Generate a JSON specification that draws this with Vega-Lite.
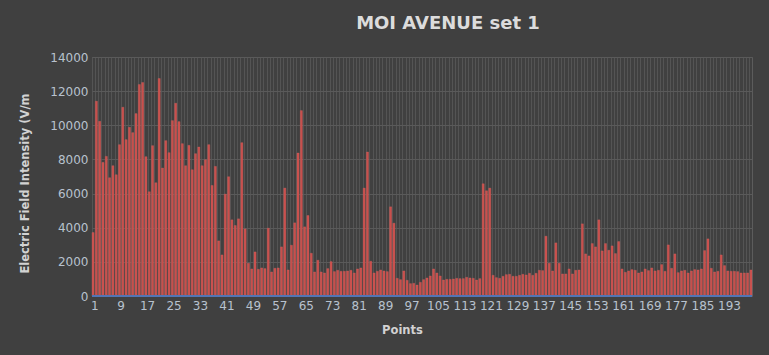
{
  "$schema": "https://vega.github.io/schema/vega-lite/v6.json",
  "autosize": "none",
  "width": 660,
  "height": 239,
  "padding": {"left": 92, "top": 57, "right": 17, "bottom": 59},
  "background": "#404040",
  "config": {
    "view": {"stroke": "#5c5c5c", "strokeWidth": 1},
    "font": "DejaVu Sans"
  },
  "title": {
    "text": "MOI AVENUE set 1",
    "font": "DejaVu Sans",
    "fontSize": 18,
    "fontWeight": "bold",
    "color": "#dcdcdc",
    "anchor": "middle",
    "frame": "group",
    "baseline": "alphabetic",
    "offset": 4,
    "dx": 26
  },
  "data": {
    "values": [
      {"Point": 1, "Value": 3718}, {"Point": 2, "Value": 11410}, {"Point": 3, "Value": 10235}, {"Point": 4, "Value": 7828}, {"Point": 5, "Value": 8180},
      {"Point": 6, "Value": 6928}, {"Point": 7, "Value": 7632}, {"Point": 8, "Value": 7104}, {"Point": 9, "Value": 8865}, {"Point": 10, "Value": 11057},
      {"Point": 11, "Value": 9159}, {"Point": 12, "Value": 9883}, {"Point": 13, "Value": 9570}, {"Point": 14, "Value": 10685}, {"Point": 15, "Value": 12388},
      {"Point": 16, "Value": 12505}, {"Point": 17, "Value": 8160}, {"Point": 18, "Value": 6106}, {"Point": 19, "Value": 8806}, {"Point": 20, "Value": 6634},
      {"Point": 21, "Value": 12740}, {"Point": 22, "Value": 7495}, {"Point": 23, "Value": 9100}, {"Point": 24, "Value": 8395}, {"Point": 25, "Value": 10274},
      {"Point": 26, "Value": 11292}, {"Point": 27, "Value": 10215}, {"Point": 28, "Value": 8924}, {"Point": 29, "Value": 7632}, {"Point": 30, "Value": 8826},
      {"Point": 31, "Value": 7397}, {"Point": 32, "Value": 8337}, {"Point": 33, "Value": 8728}, {"Point": 34, "Value": 7632}, {"Point": 35, "Value": 7984},
      {"Point": 36, "Value": 8865}, {"Point": 37, "Value": 6478}, {"Point": 38, "Value": 7593}, {"Point": 39, "Value": 3229}, {"Point": 40, "Value": 2407},
      {"Point": 41, "Value": 5969}, {"Point": 42, "Value": 6987}, {"Point": 43, "Value": 4462}, {"Point": 44, "Value": 4129}, {"Point": 45, "Value": 4521},
      {"Point": 46, "Value": 8982}, {"Point": 47, "Value": 3933}, {"Point": 48, "Value": 1918}, {"Point": 49, "Value": 1585}, {"Point": 50, "Value": 2583},
      {"Point": 51, "Value": 1566}, {"Point": 52, "Value": 1644}, {"Point": 53, "Value": 1605}, {"Point": 54, "Value": 3973}, {"Point": 55, "Value": 1409},
      {"Point": 56, "Value": 1624}, {"Point": 57, "Value": 1644}, {"Point": 58, "Value": 2877}, {"Point": 59, "Value": 6321}, {"Point": 60, "Value": 1526},
      {"Point": 61, "Value": 2975}, {"Point": 62, "Value": 4286}, {"Point": 63, "Value": 8376}, {"Point": 64, "Value": 10861}, {"Point": 65, "Value": 4051},
      {"Point": 66, "Value": 4716}, {"Point": 67, "Value": 2505}, {"Point": 68, "Value": 1409}, {"Point": 69, "Value": 2094}, {"Point": 70, "Value": 1409},
      {"Point": 71, "Value": 1350}, {"Point": 72, "Value": 1605}, {"Point": 73, "Value": 2016}, {"Point": 74, "Value": 1429}, {"Point": 75, "Value": 1507},
      {"Point": 76, "Value": 1448}, {"Point": 77, "Value": 1448}, {"Point": 78, "Value": 1468}, {"Point": 79, "Value": 1507}, {"Point": 80, "Value": 1350},
      {"Point": 81, "Value": 1585}, {"Point": 82, "Value": 1644}, {"Point": 83, "Value": 6321}, {"Point": 84, "Value": 8435}, {"Point": 85, "Value": 2035},
      {"Point": 86, "Value": 1350}, {"Point": 87, "Value": 1448}, {"Point": 88, "Value": 1526}, {"Point": 89, "Value": 1468}, {"Point": 90, "Value": 1429},
      {"Point": 91, "Value": 5225}, {"Point": 92, "Value": 4266}, {"Point": 93, "Value": 1037}, {"Point": 94, "Value": 959}, {"Point": 95, "Value": 1468},
      {"Point": 96, "Value": 920}, {"Point": 97, "Value": 724}, {"Point": 98, "Value": 744}, {"Point": 99, "Value": 646}, {"Point": 100, "Value": 802},
      {"Point": 101, "Value": 959}, {"Point": 102, "Value": 1057}, {"Point": 103, "Value": 1174}, {"Point": 104, "Value": 1585}, {"Point": 105, "Value": 1350},
      {"Point": 106, "Value": 1174}, {"Point": 107, "Value": 939}, {"Point": 108, "Value": 979}, {"Point": 109, "Value": 979}, {"Point": 110, "Value": 998},
      {"Point": 111, "Value": 1037}, {"Point": 112, "Value": 1018}, {"Point": 113, "Value": 1018}, {"Point": 114, "Value": 1096}, {"Point": 115, "Value": 1057},
      {"Point": 116, "Value": 1037}, {"Point": 117, "Value": 939}, {"Point": 118, "Value": 1018}, {"Point": 119, "Value": 6576}, {"Point": 120, "Value": 6165},
      {"Point": 121, "Value": 6321}, {"Point": 122, "Value": 1213}, {"Point": 123, "Value": 1076}, {"Point": 124, "Value": 1037}, {"Point": 125, "Value": 1155},
      {"Point": 126, "Value": 1252}, {"Point": 127, "Value": 1272}, {"Point": 128, "Value": 1155}, {"Point": 129, "Value": 1155}, {"Point": 130, "Value": 1213},
      {"Point": 131, "Value": 1272}, {"Point": 132, "Value": 1233}, {"Point": 133, "Value": 1331}, {"Point": 134, "Value": 1213}, {"Point": 135, "Value": 1331},
      {"Point": 136, "Value": 1507}, {"Point": 137, "Value": 1487}, {"Point": 138, "Value": 3503}, {"Point": 139, "Value": 1918}, {"Point": 140, "Value": 1468},
      {"Point": 141, "Value": 3112}, {"Point": 142, "Value": 1918}, {"Point": 143, "Value": 1292}, {"Point": 144, "Value": 1292}, {"Point": 145, "Value": 1585},
      {"Point": 146, "Value": 1292}, {"Point": 147, "Value": 1507}, {"Point": 148, "Value": 1526}, {"Point": 149, "Value": 4227}, {"Point": 150, "Value": 2466},
      {"Point": 151, "Value": 2348}, {"Point": 152, "Value": 3072}, {"Point": 153, "Value": 2877}, {"Point": 154, "Value": 4462}, {"Point": 155, "Value": 2642},
      {"Point": 156, "Value": 3072}, {"Point": 157, "Value": 2681}, {"Point": 158, "Value": 2936}, {"Point": 159, "Value": 2485}, {"Point": 160, "Value": 3190},
      {"Point": 161, "Value": 1585}, {"Point": 162, "Value": 1389}, {"Point": 163, "Value": 1468}, {"Point": 164, "Value": 1546}, {"Point": 165, "Value": 1507},
      {"Point": 166, "Value": 1350}, {"Point": 167, "Value": 1409}, {"Point": 168, "Value": 1585}, {"Point": 169, "Value": 1487}, {"Point": 170, "Value": 1644},
      {"Point": 171, "Value": 1468}, {"Point": 172, "Value": 1507}, {"Point": 173, "Value": 1840}, {"Point": 174, "Value": 1448}, {"Point": 175, "Value": 2994},
      {"Point": 176, "Value": 1624}, {"Point": 177, "Value": 2466}, {"Point": 178, "Value": 1370}, {"Point": 179, "Value": 1468}, {"Point": 180, "Value": 1507},
      {"Point": 181, "Value": 1350}, {"Point": 182, "Value": 1468}, {"Point": 183, "Value": 1546}, {"Point": 184, "Value": 1526}, {"Point": 185, "Value": 1585},
      {"Point": 186, "Value": 2661}, {"Point": 187, "Value": 3347}, {"Point": 188, "Value": 1624}, {"Point": 189, "Value": 1409}, {"Point": 190, "Value": 1448},
      {"Point": 191, "Value": 2407}, {"Point": 192, "Value": 1781}, {"Point": 193, "Value": 1468}, {"Point": 194, "Value": 1448}, {"Point": 195, "Value": 1448},
      {"Point": 196, "Value": 1429}, {"Point": 197, "Value": 1350}, {"Point": 198, "Value": 1350}, {"Point": 199, "Value": 1350}, {"Point": 200, "Value": 1526}
    ]
  },
  "resolve": {"axis": {"y": "independent"}},
  "layer": [
    {
      "mark": {"type": "bar", "color": "#c94f4c", "stroke": "#d66a66", "strokeWidth": 0.3},
      "encoding": {
        "x": {
          "field": "Point",
          "type": "ordinal",
          "sort": null,
          "scale": {"paddingInner": 0.36, "paddingOuter": 0},
          "axis": {
            "title": "Points",
            "titleFont": "DejaVu Sans",
            "titleFontSize": 11.5,
            "titleFontWeight": "bold",
            "titleColor": "#d2d2d2",
            "titleX": 310,
            "titleY": 34,
            "titleBaseline": "middle",
            "titleAlign": "center",
            "labelAngle": 0,
            "labelFont": "DejaVu Sans",
            "labelFontSize": 12,
            "labelColor": "#b8c2ce",
            "labelPadding": 4,
            "labelOverlap": false,
            "labelExpr": "(datum.value - 1) % 8 == 0 ? datum.label : ''",
            "labelOffset": 1.65,
            "bandPosition": 0,
            "ticks": false,
            "domain": false,
            "grid": true,
            "gridColor": "#545454",
            "gridWidth": 1
          }
        },
        "y": {
          "field": "Value",
          "type": "quantitative",
          "scale": {"domain": [0, 14000], "nice": false},
          "axis": {
            "title": "Electric Field Intensity (V/m",
            "titleFont": "DejaVu Sans",
            "titleFontSize": 11.5,
            "titleFontWeight": "bold",
            "titleColor": "#d2d2d2",
            "titleAngle": 270,
            "titleX": -67,
            "titleY": 126,
            "titleBaseline": "middle",
            "titleAlign": "center",
            "values": [0, 2000, 4000, 6000, 8000, 10000, 12000, 14000],
            "format": "d",
            "labelOverlap": false,
            "labelFont": "DejaVu Sans",
            "labelFontSize": 12,
            "labelColor": "#b8c2ce",
            "labelPadding": 4,
            "ticks": false,
            "domain": false,
            "grid": true,
            "gridColor": "#5a5a5a",
            "gridWidth": 1.2
          }
        }
      }
    },
    {
      "mark": {"type": "rule", "color": "#5275b5", "strokeWidth": 2},
      "encoding": {"y": {"datum": 0, "axis": null}}
    }
  ]
}
